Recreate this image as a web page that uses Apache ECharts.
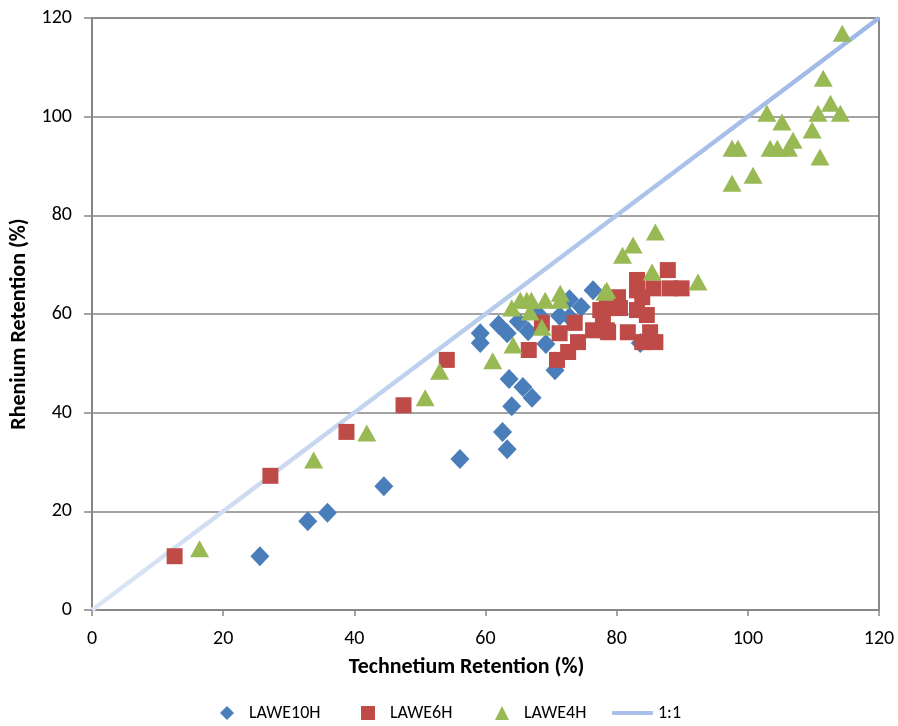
<!DOCTYPE html>
<html><head><meta charset="utf-8">
<script src="https://cdn.jsdelivr.net/npm/echarts@6/dist/echarts.min.js"></script>
<style>html,body{margin:0;padding:0;background:#fff}#c{width:898px;height:726px}</style>
</head><body><div id="c"></div>
<script>
// LAWE10H [Technetium, Rhenium]
const lawe10h = [
  [25.6,10.9],[32.9,18.0],[35.9,19.7],[44.5,25.1],[56.1,30.6],[63.3,32.6],[62.6,36.1],
  [64.0,41.3],[67.1,43.0],[65.7,45.2],[63.6,46.8],[70.6,48.6],[69.2,53.9],[59.2,54.1],
  [59.2,56.1],[62.0,57.8],[63.3,56.1],[76.4,64.8],[74.6,61.4],[72.8,63.0],[71.3,59.6],
  [72.8,59.4],[65.0,58.5],[68.0,60.0],[66.5,56.5],[83.6,54.1]
];
// LAWE6H
const lawe6h = [
  [12.6,10.9],[27.2,27.2],[38.8,36.1],[47.5,41.5],[54.1,50.7],[66.6,52.7],[70.9,50.7],
  [72.6,52.3],[68.6,58.2],[71.3,56.1],[73.6,58.2],[74.1,54.3],[76.4,56.7],[77.5,60.8],
  [78.5,56.7],[77.9,58.8],[78.5,61.2],[80.5,61.2],[80.2,63.4],[78.7,56.3],[81.7,56.3],
  [83.1,64.8],[83.1,66.9],[83.9,63.4],[83.1,60.8],[84.6,59.8],[85.1,56.3],[83.9,54.3],
  [85.9,54.3],[85.6,65.2],[88.1,65.2],[89.9,65.2],[87.8,68.9]
];
// LAWE4H
const lawe4h = [
  [16.4,12.4],[33.8,30.4],[41.9,35.9],[50.8,43.0],[53.0,48.4],[61.1,50.5],[64.2,53.7],
  [65.3,62.8],[66.3,62.8],[67.0,62.8],[64.0,61.2],[66.8,60.4],[69.1,62.8],[71.4,64.2],
  [71.4,62.8],[68.6,57.3],[78.2,64.4],[85.9,76.6],[82.5,74.0],[80.9,71.9],[85.4,68.5],
  [92.4,66.5],[78.5,64.8],
  [114.4,116.9],[111.5,107.8],[112.6,102.7],[110.7,100.7],[114.1,100.7],[109.8,97.3],
  [102.9,100.7],[105.2,98.9],[106.9,95.2],[106.2,93.6],[103.4,93.6],[104.5,93.6],
  [97.6,93.6],[98.5,93.6],[111.0,91.8],[100.8,88.1],[97.6,86.5]
];
// 1:1 reference line
const oneToOne = [[0,0],[120,120]];
const axisTicks = [0,20,40,60,80,100,120];

const font = "'Carlito','Liberation Sans',sans-serif";
const chart = echarts.init(document.getElementById('c'));
const legendBase = {bottom: 4, padding:0, itemHeight: 14, itemWidth: 14,
  textStyle:{fontFamily:font,fontSize:18,color:'#000',padding:[0,0,0,10]}};
chart.setOption({
  animation:false,
  grid:{left:92,right:19,top:18,bottom:116,show:true,borderColor:'#3a3a3a',borderWidth:1.2},
  xAxis:{type:'value',min:axisTicks[0],max:axisTicks[axisTicks.length-1],interval:20,
    name:'Technetium Retention (%)',nameLocation:'middle',nameGap:46,
    nameTextStyle:{fontFamily:font,fontSize:22,fontWeight:'bold',color:'#000',padding:[0,38,0,0]},
    axisLine:{show:true,lineStyle:{color:'#868686',width:1.5}},
    axisTick:{show:true,inside:false,length:6,lineStyle:{color:'#868686',width:1.5}},
    axisLabel:{fontFamily:font,fontSize:20,color:'#000',margin:19},
    splitLine:{show:false}},
  yAxis:{type:'value',min:axisTicks[0],max:axisTicks[axisTicks.length-1],interval:20,
    name:'Rhenium Retention (%)',nameLocation:'middle',nameGap:57,
    nameTextStyle:{fontFamily:font,fontSize:22,fontWeight:'bold',color:'#000',padding:[0,20,0,0]},
    axisLine:{show:true,lineStyle:{color:'#868686',width:1.5}},
    axisTick:{show:true,inside:false,length:8,lineStyle:{color:'#868686',width:1.5}},
    axisLabel:{fontFamily:font,fontSize:20,color:'#000',margin:20},
    splitLine:{show:true,lineStyle:{color:'#868686',width:1.6}}},
  legend:[
    Object.assign({},legendBase,{left:220,data:['LAWE10H']}),
    Object.assign({},legendBase,{left:361,data:['LAWE6H']}),
    Object.assign({},legendBase,{left:495,data:['LAWE4H']}),
    Object.assign({},legendBase,{left:612,itemWidth:41,itemHeight:4,
      textStyle:Object.assign({},legendBase.textStyle,{padding:[0,0,0,0]}),
      data:[{name:'1:1',icon:'roundRect'}]})
  ],
  series:[
    {name:'1:1',type:'line',data:oneToOne,symbol:'none',z:1,
      lineStyle:{width:4.5,color:new echarts.graphic.LinearGradient(0,1,1,0,[
        {offset:0,color:'#dce6f5'},{offset:0.5,color:'#b7cbec'},{offset:1,color:'#9cb8e6'}])},
      itemStyle:{color:'#a9c1ea'}},
    {name:'LAWE10H',type:'scatter',data:lawe10h,symbol:'diamond',symbolSize:[19,20],z:2,
      itemStyle:{color:'#4a7ebb',opacity:1}},
    {name:'LAWE6H',type:'scatter',data:lawe6h,symbol:'rect',symbolSize:16,z:3,
      itemStyle:{color:'#be4b48',opacity:1}},
    {name:'LAWE4H',type:'scatter',data:lawe4h,symbol:'triangle',symbolSize:[19,17],z:4,
      itemStyle:{color:'#98b954',opacity:1}}
  ]
});
</script></body></html>
